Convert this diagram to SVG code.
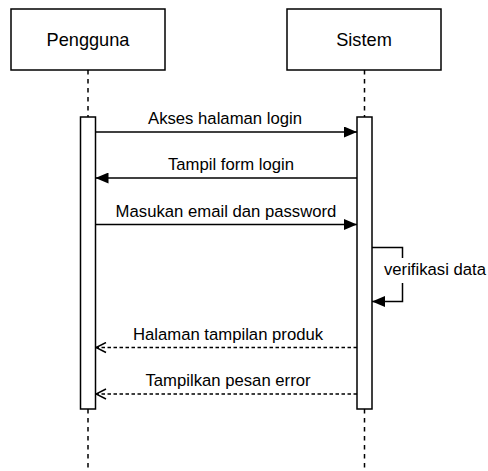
<svg xmlns="http://www.w3.org/2000/svg" width="488" height="471" viewBox="0 0 488 471">
  <style>
    .box { fill: #ffffff; stroke: #000000; stroke-width: 1.5; }
    .life { fill: none; stroke: #000000; stroke-width: 1.5; stroke-dasharray: 4.5 4.5; }
    .msg { fill: none; stroke: #000000; stroke-width: 1.5; }
    .ret { fill: none; stroke: #000000; stroke-width: 1.5; stroke-dasharray: 3.5 2.5; }
    .head { font-family: "Liberation Sans", Arial, sans-serif; font-size: 18.2px; fill: #000000; text-anchor: middle; }
    .lbl { font-family: "Liberation Sans", Arial, sans-serif; font-size: 16.7px; fill: #000000; text-anchor: middle; }
  </style>
  <defs>
    <marker id="block" viewBox="0 0 13 11" refX="13" refY="5.5" markerWidth="13" markerHeight="11" markerUnits="userSpaceOnUse" orient="auto">
      <path d="M0,0 L13,5.5 L0,11 Z" fill="#000000"/>
    </marker>
    <marker id="open" viewBox="0 0 12 12" refX="11" refY="6" markerWidth="12" markerHeight="12" markerUnits="userSpaceOnUse" orient="auto">
      <path d="M1,1 L11,6 L1,11" fill="none" stroke="#000000" stroke-width="1.5"/>
    </marker>
  </defs>

  <!-- Participant: Pengguna -->
  <g id="pengguna">
    <line class="life" x1="88" y1="70" x2="88" y2="117"/>
    <line class="life" x1="88" y1="409" x2="88" y2="471"/>
    <rect class="box" x="11" y="9" width="154" height="61"/>
    <text class="head" x="88" y="45.5">Pengguna</text>
    <rect class="box" x="80.5" y="117" width="15" height="292"/>
  </g>

  <!-- Participant: Sistem -->
  <g id="sistem">
    <line class="life" x1="364.5" y1="70" x2="364.5" y2="117"/>
    <line class="life" x1="364.5" y1="409" x2="364.5" y2="471"/>
    <rect class="box" x="287" y="9" width="154" height="61"/>
    <text class="head" x="364" y="45.5">Sistem</text>
    <rect class="box" x="357" y="117" width="15" height="292"/>
  </g>

  <!-- Messages -->
  <g id="connectors">
    <line class="msg" x1="95.5" y1="132" x2="357" y2="132" marker-end="url(#block)"/>
    <text class="lbl" x="225" y="124">Akses halaman login</text>

    <line class="msg" x1="357" y1="178" x2="95.5" y2="178" marker-end="url(#block)"/>
    <text class="lbl" x="231" y="169.5">Tampil form login</text>

    <line class="msg" x1="95.5" y1="224.5" x2="357" y2="224.5" marker-end="url(#block)"/>
    <text class="lbl" x="226" y="216.5">Masukan email dan password</text>

    <path class="msg" d="M372,247.5 H402.5 V301.5 H372" marker-end="url(#block)"/>
    <rect x="384" y="258" width="102" height="25" fill="#ffffff"/>
    <text class="lbl" x="435" y="275">verifikasi data</text>

    <line class="ret" x1="357" y1="347.5" x2="96" y2="347.5" marker-end="url(#open)"/>
    <text class="lbl" x="228" y="339.5">Halaman tampilan produk</text>

    <line class="ret" x1="357" y1="394" x2="96" y2="394" marker-end="url(#open)"/>
    <text class="lbl" x="228" y="385.5">Tampilkan pesan error</text>
  </g>
</svg>
